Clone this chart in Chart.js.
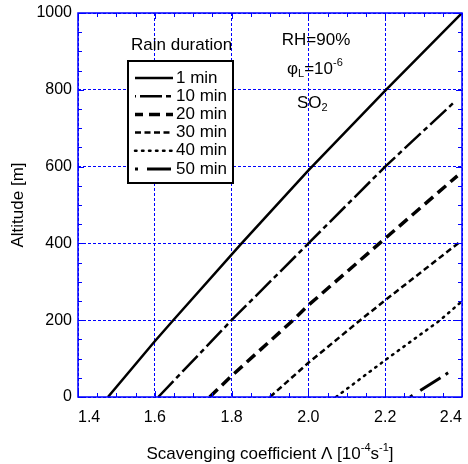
<!DOCTYPE html>
<html>
<head>
<meta charset="utf-8">
<script src="https://cdn.jsdelivr.net/npm/chart.js@4.4.1/dist/chart.umd.min.js"></script>
<style>
  body { margin: 0; background: #fff; }
  canvas { display: block; }
</style>
</head>
<body>
<canvas id="chart" width="468" height="464"></canvas>
<script>
// altitude vs scavenging coefficient for each rain duration
const durations = ['1 min', '10 min', '20 min', '30 min', '40 min', '50 min']

const lambda1 = [1.478, 1.6, 1.648, 1.826, 2.0, 2.202, 2.4]
const alt1 = [0, 145, 200, 400, 590, 800, 1000]
const lambda10 = [1.609, 1.8, 2.0, 2.2, 2.382]
const alt10 = [0, 200, 400, 600, 770]
const lambda20 = [1.743, 1.8, 1.96, 2.0, 2.2, 2.388]
const alt20 = [0, 55, 200, 239, 413, 576]
const lambda30 = [1.9, 2.0, 2.135, 2.2, 2.396]
const alt30 = [0, 89, 200, 252, 405]
const lambda40 = [2.072, 2.2, 2.343, 2.396]
const alt40 = [0, 96, 200, 246]
const lambda50 = [2.265, 2.367]
const alt50 = [0, 65]

const xTicks = [1.4, 1.6, 1.8, 2.0, 2.2, 2.4]
const yTicks = [0, 200, 400, 600, 800, 1000]

const FONT = '"Liberation Sans", Arial, sans-serif'
const BLUE = 'rgb(0, 0, 255)'

// dash pattern and width for each curve
const STYLES = [
    {dash: [], width: 2.5, legendOffset: 0},
    {dash: [22, 4, 5, 4], width: 2.5, legendOffset: 30},
    {dash: [11, 6], width: 3.5, legendOffset: 3},
    {dash: [6, 3.5], width: 2.5, legendOffset: 0},
    {dash: [1.5, 5.5], width: 2.5, legendOffset: 0},
    {dash: [3, 9, 24, 6], width: 3, legendOffset: 0}
]

function pairs(xs, ys){
    return xs.map((x, i) => ({x: x, y: ys[i]}))
}

const series = [
    pairs(lambda1, alt1), pairs(lambda10, alt10), pairs(lambda20, alt20),
    pairs(lambda30, alt30), pairs(lambda40, alt40), pairs(lambda50, alt50)
]

const datasets = series.map((pts, i) => ({
    label: durations[i],
    data: pts,
    borderColor: '#000',
    borderWidth: STYLES[i].width,
    borderDash: STYLES[i].dash,
    borderCapStyle: i == 4 ? 'round' : 'butt',
    pointRadius: 0,
    tension: 0,
    fill: false
}))

// text with sub/superscript pieces
function drawRich(ctx, parts, x, y, size, align){
    const small = Math.round(size * 0.65)
    let total = 0
    parts.forEach(p => {
        ctx.font = ((p.sub || p.sup) ? small : size) + 'px ' + FONT
        p.w = ctx.measureText(p.t).width
        total += p.w
    })
    let cx = align == 'left' ? x : x - total / 2
    ctx.textAlign = 'left'
    ctx.textBaseline = 'middle'
    parts.forEach(p => {
        ctx.font = ((p.sub || p.sup) ? small : size) + 'px ' + FONT
        let dy = p.sub ? size * 0.32 : (p.sup ? -size * 0.38 : 0)
        ctx.fillText(p.t, cx, y + dy)
        cx += p.w
    })
}

const framePlugin = {
    id: 'frame',
    afterDatasetsDraw(chart){
        const ctx = chart.ctx
        const area = chart.chartArea
        const xs = chart.scales.x
        const ys = chart.scales.y
        ctx.save()
        ctx.fillStyle = '#000'
        ctx.strokeStyle = BLUE
        ctx.lineWidth = 1

        // inward ticks on all four sides
        for (let v = 1.4; v <= 2.4001; v += 0.05){
            const px = Math.round(xs.getPixelForValue(v)) + 0.5
            const major = Math.abs(v * 5 - Math.round(v * 5)) < 0.001
            const len = major ? 6 : 4
            ctx.beginPath()
            ctx.moveTo(px, area.bottom); ctx.lineTo(px, area.bottom - len)
            ctx.moveTo(px, area.top); ctx.lineTo(px, area.top + len)
            ctx.stroke()
        }
        for (let v = 0; v <= 1000; v += 50){
            const py = Math.round(ys.getPixelForValue(v)) + 0.5
            const len = v % 200 == 0 ? 6 : 4
            ctx.beginPath()
            ctx.moveTo(area.left, py); ctx.lineTo(area.left + len, py)
            ctx.moveTo(area.right, py); ctx.lineTo(area.right - len, py)
            ctx.stroke()
        }

        ctx.lineWidth = 1.5
        ctx.strokeRect(area.left, area.top, area.right - area.left, area.bottom - area.top)

        // legend box
        ctx.font = '17px ' + FONT
        ctx.textAlign = 'left'
        ctx.textBaseline = 'middle'
        ctx.fillText('Rain duration', 131, 45)
        ctx.fillStyle = '#fff'
        ctx.fillRect(128, 61, 105, 122)
        ctx.strokeStyle = '#000'
        ctx.lineWidth = 2
        ctx.strokeRect(128, 61, 105, 122)
        ctx.fillStyle = '#000'
        chart.data.datasets.forEach((ds, i) => {
            const y = 78 + i * 18.2
            ctx.save()
            ctx.lineWidth = ds.borderWidth
            ctx.lineCap = ds.borderCapStyle
            ctx.setLineDash(ds.borderDash)
            ctx.lineDashOffset = STYLES[i].legendOffset
            ctx.beginPath()
            ctx.moveTo(135, y)
            ctx.lineTo(173, y)
            ctx.stroke()
            ctx.restore()
            ctx.font = '17px ' + FONT
            ctx.fillText(ds.label, 176, y)
        })

        // conditions
        drawRich(ctx, [{t: 'RH=90%'}], 316, 40, 17, 'center')
        drawRich(ctx, [{t: 'φ'}, {t: 'L', sub: true}, {t: '=10'}, {t: '-6', sup: true}], 287, 69, 17, 'left')
        drawRich(ctx, [{t: 'SO'}, {t: '2', sub: true}], 297, 103, 17, 'left')

        // axis titles
        drawRich(ctx, [{t: 'Scavenging coefficient Λ [10'}, {t: '-4', sup: true}, {t: 's'}, {t: '-1', sup: true}, {t: ']'}], 270, 454, 17, 'center')
        ctx.translate(18, 205)
        ctx.rotate(-Math.PI / 2)
        drawRich(ctx, [{t: 'Altitude [m]'}], 0, 0, 17, 'center')
        ctx.restore()
    }
}

const chart = new Chart('chart', {
    type: 'line',
    data: {datasets: datasets},
    options: {
        responsive: false,
        animation: false,
        layout: {padding: {top: 13, right: 6, left: 0, bottom: 0}},
        plugins: {legend: {display: false}, tooltip: {enabled: false}},
        scales: {
            x: {
                type: 'linear',
                min: 1.4,
                max: 2.4,
                afterBuildTicks: s => { s.ticks = xTicks.map(v => ({value: v})) },
                afterFit: s => { s.height = 67; s.paddingLeft = 0; s.paddingRight = 0 },
                ticks: {
                    align: 'inner',
                    padding: 11,
                    color: '#000',
                    font: {size: 16, family: FONT},
                    callback: v => v.toFixed(1)
                },
                grid: {color: BLUE, lineWidth: 1, drawTicks: false},
                border: {display: false, dash: [3, 2]}
            },
            y: {
                min: 0,
                max: 1000,
                afterBuildTicks: s => { s.ticks = yTicks.map(v => ({value: v})) },
                afterFit: s => { s.width = 78; s.paddingTop = 0; s.paddingBottom = 0 },
                ticks: {
                    padding: 6,
                    color: '#000',
                    font: {size: 16, family: FONT},
                    callback: v => String(v)
                },
                grid: {color: BLUE, lineWidth: 1, drawTicks: false},
                border: {display: false, dash: [3, 2]}
            }
        }
    },
    plugins: [framePlugin]
})
</script>
</body>
</html>
